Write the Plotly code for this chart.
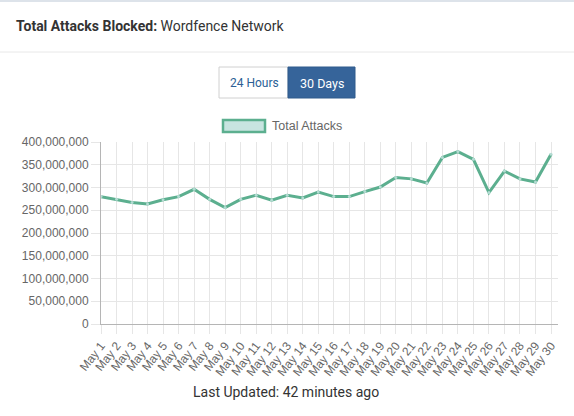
import plotly.graph_objects as go

# data
days = ["May %d" % d for d in range(1, 31)]
attacks = [280e6, 274e6, 267e6, 264e6, 273e6, 280e6, 296e6, 274e6, 256e6, 274e6,
           283e6, 272e6, 283e6, 277e6, 290e6, 280e6, 280e6, 291e6, 301e6, 322e6,
           319e6, 310e6, 366e6, 379e6, 362e6, 289e6, 336e6, 319e6, 312e6, 373e6]
y_ticks = list(range(0, 400000001, 50000000))

W, H = 574, 416
L, R, T, B = 101, 16, 142, 92
PW, PH = W - L - R, H - T - B


def px(x):
    return (x - L) / PW


def py(y):
    return (H - B - y) / PH


GREEN = "#5caf8f"
LIGHT = "#c8e4e0"
BLUE = "#36649a"

fig = go.Figure()
fig.add_trace(go.Scatter(
    x=days, y=attacks, mode="lines+markers", name="Total Attacks",
    line=dict(color=GREEN, width=3),
    marker=dict(size=3, color="#b4dbd3"),
    showlegend=False,
))

fig.update_layout(
    width=W, height=H,
    margin=dict(l=L, r=R, t=T, b=B, pad=0),
    paper_bgcolor="white", plot_bgcolor="white",
    font=dict(family="Liberation Sans, Arial", size=12, color="#666"),
)
fig.update_xaxes(
    type="category", range=[0, 29.45], tickangle=-52,
    showgrid=True, gridcolor="#e6e6e6", gridwidth=1,
    ticks="outside", ticklen=9, tickcolor="#e6e6e6",
    showline=True, linecolor="#b5b5b5", linewidth=1,
    tickfont=dict(size=12, color="#666"), zeroline=False,
)
fig.update_yaxes(
    range=[0, 400e6], tickvals=y_ticks, tickformat=",d",
    showgrid=True, gridcolor="#e6e6e6", gridwidth=1,
    ticks="outside", ticklen=9, tickcolor="#e6e6e6",
    showline=True, linecolor="#b5b5b5", linewidth=1,
    tickfont=dict(size=12, color="#666"), zeroline=False,
)

shapes = [
    # top border and header separator
    dict(type="line", x0=px(0), x1=px(W), y0=py(1), y1=py(1), line=dict(color="#dde3ea", width=2)),
    dict(type="line", x0=px(0), x1=px(W), y0=py(52), y1=py(52), line=dict(color="#e8e8e8", width=1)),
    # toggle buttons
    dict(type="rect", x0=px(219), x1=px(288), y0=py(98), y1=py(67),
         line=dict(color="#d0d0d0", width=1), fillcolor="white"),
    dict(type="rect", x0=px(288), x1=px(355), y0=py(98), y1=py(67),
         line=dict(color="#2e5a8c", width=1), fillcolor=BLUE),
    # legend swatch
    dict(type="rect", x0=px(223), x1=px(265), y0=py(132), y1=py(120),
         line=dict(color=GREEN, width=2.5), fillcolor=LIGHT),
]
for s in shapes:
    s.update(xref="paper", yref="paper", layer="above")
fig.update_layout(shapes=shapes)

annotations = [
    dict(x=px(14), y=py(26), text="<b>Total Attacks Blocked:</b> Wordfence Network",
         xanchor="left", font=dict(family="Roboto", size=14, color="#333")),
    dict(x=px(254), y=py(83), text="24 Hours",
         font=dict(family="Roboto", size=12, color="#2c5f96")),
    dict(x=px(321.5), y=py(83), text="30 Days",
         font=dict(family="Roboto", size=12.5, color="white")),
    dict(x=px(270), y=py(126), text="Total Attacks", xanchor="left",
         font=dict(family="Liberation Sans, Arial", size=12.5, color="#666")),
    dict(x=px(286), y=py(392), text="Last Updated: 42 minutes ago",
         font=dict(family="Roboto", size=14, color="#333")),
]
for a in annotations:
    a.update(xref="paper", yref="paper", showarrow=False, yanchor="middle")
    a.setdefault("xanchor", "center")
fig.update_layout(annotations=annotations)

# the page has a default body margin; remove it so the figure sits at 0,0
fig.write_html("out.html", config={"displayModeBar": False},
               post_script="document.body.style.margin='0px';")
